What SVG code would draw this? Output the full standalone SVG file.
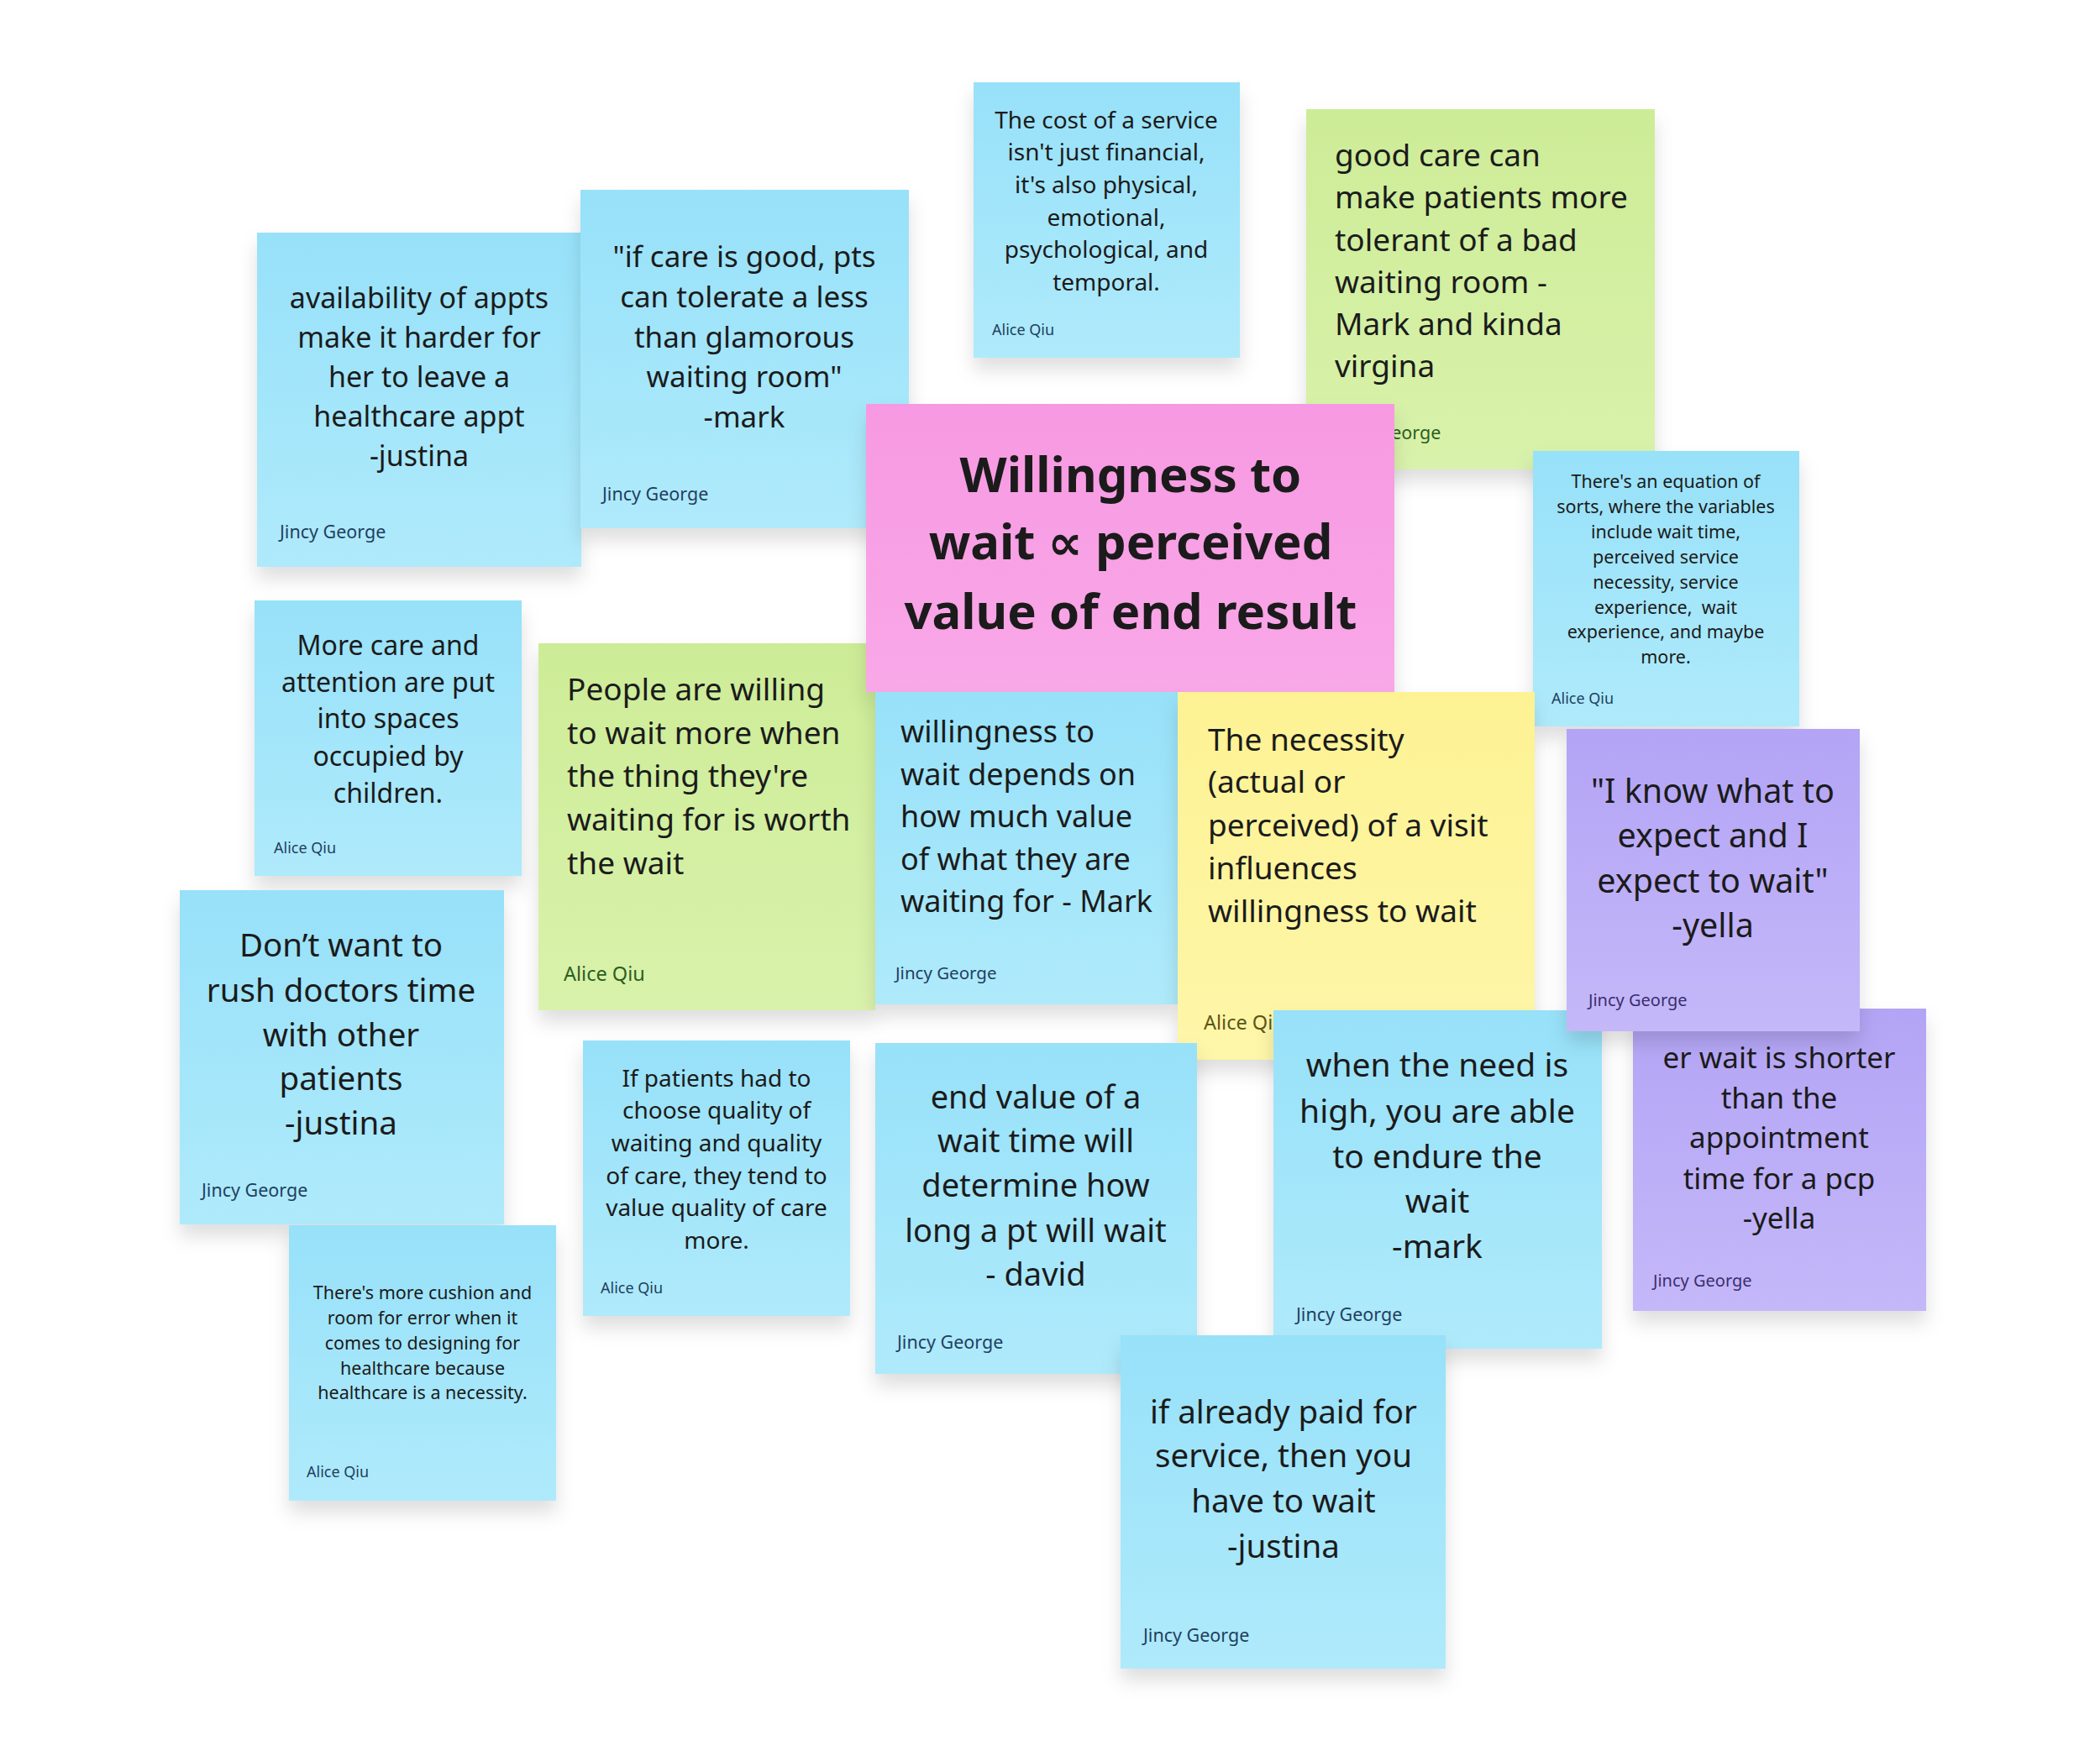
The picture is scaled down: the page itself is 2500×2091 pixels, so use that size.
<svg xmlns="http://www.w3.org/2000/svg" width="2500" height="2091" viewBox="0 0 2500 2091">
<defs>
<linearGradient id="gBlue" x1="0" y1="0" x2="0" y2="1"><stop offset="0" stop-color="#97e1f9"/><stop offset="1" stop-color="#afeafb"/></linearGradient>
<linearGradient id="gGreen" x1="0" y1="0" x2="0" y2="1"><stop offset="0" stop-color="#cdec97"/><stop offset="1" stop-color="#d9f2ab"/></linearGradient>
<linearGradient id="gPink" x1="0" y1="0" x2="0" y2="1"><stop offset="0" stop-color="#f799e2"/><stop offset="1" stop-color="#f9a8e8"/></linearGradient>
<linearGradient id="gYellow" x1="0" y1="0" x2="0" y2="1"><stop offset="0" stop-color="#fdf293"/><stop offset="1" stop-color="#fef6a9"/></linearGradient>
<linearGradient id="gPurple" x1="0" y1="0" x2="0" y2="1"><stop offset="0" stop-color="#b3a4f5"/><stop offset="1" stop-color="#c4b8f9"/></linearGradient>
<filter id="sh" x="-20%" y="-20%" width="140%" height="150%"><feDropShadow dx="0" dy="14" stdDeviation="11" flood-color="#000" flood-opacity="0.13"/></filter>
</defs>
<style>
.t{font-family:"Noto Sans","Open Sans","DejaVu Sans",sans-serif;fill:#1b1b1b}
.c{text-anchor:middle}
.b{fill:url(#gBlue);filter:url(#sh)}
.gr{fill:url(#gGreen);filter:url(#sh)}
.pk{fill:url(#gPink);filter:url(#sh)}
.y{fill:url(#gYellow);filter:url(#sh)}
.pu{fill:url(#gPurple);filter:url(#sh)}
.ab{font-family:"Noto Sans","Open Sans",sans-serif;fill:#1f3f60}
.ag{font-family:"Noto Sans","Open Sans",sans-serif;fill:#2e5e1e}
.ay{font-family:"Noto Sans","Open Sans",sans-serif;fill:#5c5516}
.ap{font-family:"Noto Sans","Open Sans",sans-serif;fill:#3a2e6e}
</style>
<rect width="2500" height="2091" fill="#ffffff"/>

<g id="note-availability">
<rect class="b" x="306" y="277" width="386" height="398"/>
<g class="t c" font-size="34">
<text x="499" y="367">availability of appts</text>
<text x="499" y="414">make it harder for</text>
<text x="499" y="461">her to leave a</text>
<text x="499" y="508">healthcare appt</text>
<text x="499" y="555">-justina</text>
</g>
<text class="ab" x="333" y="641" font-size="21.5">Jincy George</text>
</g>

<g id="note-care-good">
<rect class="b" x="691" y="226" width="391" height="403"/>
<g class="t c" font-size="35">
<text x="886" y="318">"if care is good, pts</text>
<text x="886" y="366">can tolerate a less</text>
<text x="886" y="414">than glamorous</text>
<text x="886" y="461">waiting room"</text>
<text x="886" y="509">-mark</text>
</g>
<text class="ab" x="717" y="596" font-size="21.5">Jincy George</text>
</g>

<g id="note-cost">
<rect class="b" x="1159" y="98" width="317" height="328"/>
<g class="t c" font-size="28">
<text x="1317" y="153">The cost of a service</text>
<text x="1317" y="191">isn't just financial,</text>
<text x="1317" y="230">it's also physical,</text>
<text x="1317" y="269">emotional,</text>
<text x="1317" y="307">psychological, and</text>
<text x="1317" y="346">temporal.</text>
</g>
<text class="ab" x="1181" y="399" font-size="18">Alice Qiu</text>
</g>

<g id="note-good-care">
<rect class="gr" x="1555" y="130" width="415" height="429"/>
<g class="t" font-size="37">
<text x="1589" y="198">good care can</text>
<text x="1589" y="248">make patients more</text>
<text x="1589" y="299">tolerant of a bad</text>
<text x="1589" y="349">waiting room -</text>
<text x="1589" y="399">Mark and kinda</text>
<text x="1589" y="449">virgina</text>
</g>
<text class="ag" x="1589" y="523" font-size="21.5">Jincy George</text>
</g>

<g id="note-equation">
<rect class="b" x="1825" y="537" width="317" height="328"/>
<g class="t c" font-size="21.5">
<text x="1983" y="581">There's an equation of</text>
<text x="1983" y="611">sorts, where the variables</text>
<text x="1983" y="641">include wait time,</text>
<text x="1983" y="671">perceived service</text>
<text x="1983" y="701">necessity, service</text>
<text x="1983" y="731" xml:space="preserve">experience,  wait</text>
<text x="1983" y="760">experience, and maybe</text>
<text x="1983" y="790">more.</text>
</g>
<text class="ab" x="1847" y="838" font-size="18">Alice Qiu</text>
</g>

<g id="note-more-care">
<rect class="b" x="303" y="715" width="318" height="328"/>
<g class="t c" font-size="32">
<text x="462" y="780">More care and</text>
<text x="462" y="824">attention are put</text>
<text x="462" y="867">into spaces</text>
<text x="462" y="912">occupied by</text>
<text x="462" y="956">children.</text>
</g>
<text class="ab" x="326" y="1016" font-size="18">Alice Qiu</text>
</g>

<g id="note-people-willing">
<rect class="gr" x="641" y="766" width="401" height="437"/>
<g class="t" font-size="37">
<text x="675" y="834">People are willing</text>
<text x="675" y="886">to wait more when</text>
<text x="675" y="937">the thing they're</text>
<text x="675" y="989">waiting for is worth</text>
<text x="675" y="1041">the wait</text>
</g>
<text class="ag" x="671" y="1168" font-size="23.5">Alice Qiu</text>
</g>

<g id="note-main">
<rect class="pk" x="1031" y="481" width="629" height="343"/>
<g class="t c" font-size="58" font-weight="bold">
<text x="1346" y="586">Willingness to</text>
<text x="1346" y="666">wait ∝ perceived</text>
<text x="1346" y="749">value of end result</text>
</g>
</g>

<g id="note-depends">
<rect class="b" x="1042" y="824" width="360" height="372"/>
<g class="t" font-size="36">
<text x="1072" y="884">willingness to</text>
<text x="1072" y="935">wait depends on</text>
<text x="1072" y="985">how much value</text>
<text x="1072" y="1036">of what they are</text>
<text x="1072" y="1086">waiting for - Mark</text>
</g>
<text class="ab" x="1066" y="1166" font-size="20.5">Jincy George</text>
</g>

<g id="note-necessity">
<rect class="y" x="1402" y="824" width="425" height="438"/>
<g class="t" font-size="37">
<text x="1438" y="894">The necessity</text>
<text x="1438" y="944">(actual or</text>
<text x="1438" y="996">perceived) of a visit</text>
<text x="1438" y="1047">influences</text>
<text x="1438" y="1098">willingness to wait</text>
</g>
<text class="ay" x="1433" y="1226" font-size="23.5">Alice Qiu</text>
</g>

<g id="note-rush">
<rect class="b" x="214" y="1060" width="386" height="398"/>
<g class="t c" font-size="38.5">
<text x="406" y="1139">Don’t want to</text>
<text x="406" y="1193">rush doctors time</text>
<text x="406" y="1246">with other</text>
<text x="406" y="1298">patients</text>
<text x="406" y="1351">-justina</text>
</g>
<text class="ab" x="240" y="1425" font-size="21.5">Jincy George</text>
</g>

<g id="note-cushion">
<rect class="b" x="344" y="1459" width="318" height="328"/>
<g class="t c" font-size="21.5">
<text x="503" y="1547">There's more cushion and</text>
<text x="503" y="1577">room for error when it</text>
<text x="503" y="1607">comes to designing for</text>
<text x="503" y="1637">healthcare because</text>
<text x="503" y="1666">healthcare is a necessity.</text>
</g>
<text class="ab" x="365" y="1759" font-size="18">Alice Qiu</text>
</g>

<g id="note-quality">
<rect class="b" x="694" y="1239" width="318" height="328"/>
<g class="t c" font-size="28">
<text x="853" y="1294">If patients had to</text>
<text x="853" y="1332">choose quality of</text>
<text x="853" y="1371">waiting and quality</text>
<text x="853" y="1410">of care, they tend to</text>
<text x="853" y="1448">value quality of care</text>
<text x="853" y="1487">more.</text>
</g>
<text class="ab" x="715" y="1540" font-size="18">Alice Qiu</text>
</g>

<g id="note-end-value">
<rect class="b" x="1042" y="1242" width="383" height="394"/>
<g class="t c" font-size="38">
<text x="1233" y="1320">end value of a</text>
<text x="1233" y="1372">wait time will</text>
<text x="1233" y="1425">determine how</text>
<text x="1233" y="1479">long a pt will wait</text>
<text x="1233" y="1531">- david</text>
</g>
<text class="ab" x="1068" y="1606" font-size="21.5">Jincy George</text>
</g>

<g id="note-need-high">
<rect class="b" x="1516" y="1203" width="391" height="403"/>
<g class="t c" font-size="39">
<text x="1711" y="1282">when the need is</text>
<text x="1711" y="1337">high, you are able</text>
<text x="1711" y="1391">to endure the</text>
<text x="1711" y="1444">wait</text>
<text x="1711" y="1498">-mark</text>
</g>
<text class="ab" x="1543" y="1573" font-size="21.5">Jincy George</text>
</g>

<g id="note-shorter">
<rect class="pu" x="1944" y="1201" width="349" height="360"/>
<g class="t c" font-size="35">
<text x="2118" y="1272">er wait is shorter</text>
<text x="2118" y="1320">than the</text>
<text x="2118" y="1367">appointment</text>
<text x="2118" y="1416">time for a pcp</text>
<text x="2118" y="1463">-yella</text>
</g>
<text class="ap" x="1968" y="1532" font-size="20">Jincy George</text>
</g>

<g id="note-know-expect">
<rect class="pu" x="1865" y="868" width="349" height="360"/>
<g class="t c" font-size="39.5">
<text x="2039" y="956">"I know what to</text>
<text x="2039" y="1009">expect and I</text>
<text x="2039" y="1063">expect to wait"</text>
<text x="2039" y="1116">-yella</text>
</g>
<text class="ap" x="1891" y="1198" font-size="20">Jincy George</text>
</g>

<g id="note-paid">
<rect class="b" x="1334" y="1590" width="387" height="397"/>
<g class="t c" font-size="38.5">
<text x="1528" y="1695">if already paid for</text>
<text x="1528" y="1747">service, then you</text>
<text x="1528" y="1801">have to wait</text>
<text x="1528" y="1855">-justina</text>
</g>
<text class="ab" x="1361" y="1955" font-size="21.5">Jincy George</text>
</g>

<g id="connectors"/>
</svg>
